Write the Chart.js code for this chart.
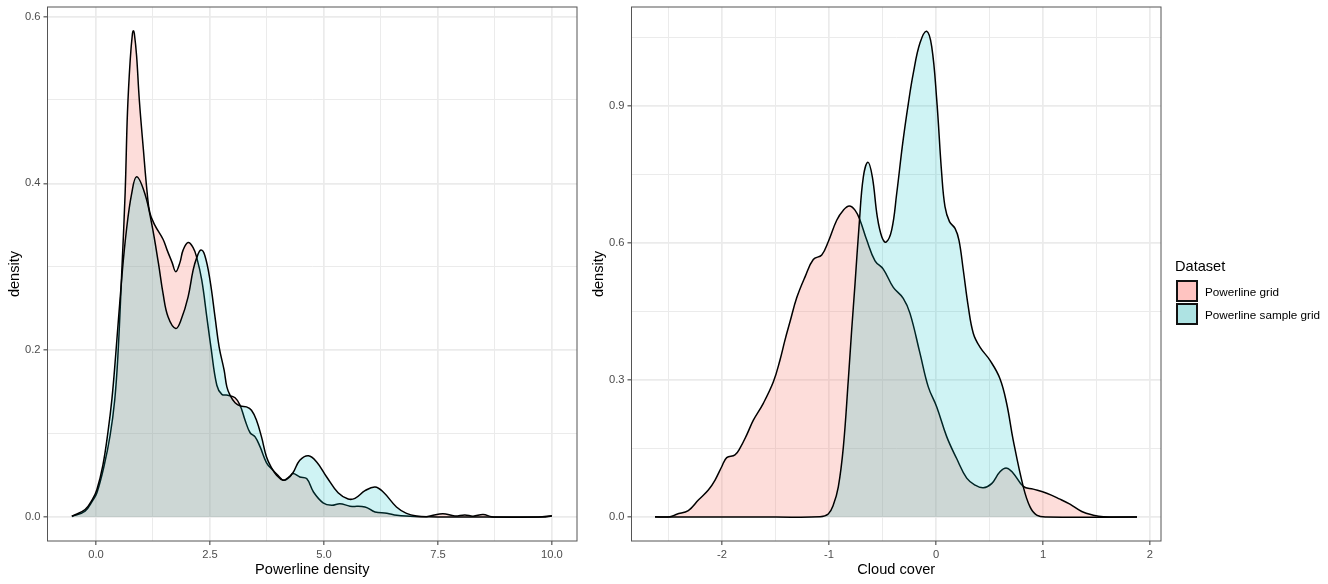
<!DOCTYPE html>
<html lang="en">
  <head>
    <meta charset="UTF-8" />
    <title>density</title>
    <script src="https://cdn.jsdelivr.net/npm/chart.js@4"></script>
    <style>
      body { margin: 0; background: #fff; font-family: "Liberation Sans", Arial, sans-serif; }
      canvas { position: absolute; top: 0; }
      #left { left: 0; }
      #right { left: 590px; }
      .legend-title { position: absolute; left: 1175px; top: 258px; font-size: 14.6px; color: #000; }
      .swatch { position: absolute; left: 1175.5px; width: 18px; height: 18px; border: 2px solid #111; }
      .legend-label { position: absolute; left: 1205px; font-size: 11.7px; color: #000; line-height: 14px; }
    </style>
  </head>
  <body>
    <canvas id="left" width="590" height="584"></canvas>
    <canvas id="right" width="590" height="584"></canvas>

    <div class="legend-title" id="legendTitle"></div>
    <div class="swatch" style="top: 280px; background: #ffc4c1"></div>
    <div class="swatch" style="top: 303px; background: #aee3e3"></div>
    <div class="legend-label" id="label0" style="top: 285px"></div>
    <div class="legend-label" id="label1" style="top: 308px"></div>

    <script>
      const legendName = "Dataset";
      const seriesNames = ["Powerline grid", "Powerline sample grid"];

      // left panel, powerline density
      const lineGridX = [-0.53, -0.24, -0.07, 0.02, 0.18, 0.31, 0.41, 0.48, 0.57, 0.64, 0.69, 0.75, 0.8, 0.82, 0.84, 0.89, 0.95, 1.04, 1.12, 1.18, 1.29, 1.47, 1.56, 1.67, 1.75, 1.84, 1.91, 2.02, 2.13, 2.21, 2.32, 2.43, 2.52, 2.65, 2.76, 2.89, 3.05, 3.16, 3.27, 3.38, 3.49, 3.6, 3.74, 3.88, 3.99, 4.12, 4.25, 4.32, 4.47, 4.62, 4.77, 4.98, 5.17, 5.35, 5.57, 5.9, 6.12, 6.38, 6.6, 6.89, 7.2, 7.35, 7.61, 7.87, 8.09, 8.27, 8.49, 8.68, 8.86, 9.7, 10];
      const lineGridY = [0.0006, 0.007, 0.02, 0.029, 0.062, 0.098, 0.14, 0.193, 0.3, 0.39, 0.485, 0.548, 0.58, 0.583, 0.58, 0.553, 0.5, 0.44, 0.39, 0.365, 0.35, 0.333, 0.32, 0.305, 0.294, 0.305, 0.32, 0.329, 0.323, 0.311, 0.284, 0.24, 0.204, 0.158, 0.147, 0.146, 0.143, 0.134, 0.116, 0.101, 0.096, 0.084, 0.065, 0.056, 0.05, 0.044, 0.048, 0.052, 0.048, 0.046, 0.03, 0.017, 0.014, 0.016, 0.013, 0.012, 0.006, 0.0045, 0.002, 0.001, 0.0003, 0.0015, 0.004, 0.0012, 0.0025, 0.001, 0.003, 0.0003, 0.0001, 0.0001, 0.0015];
      const lineSampleX = [-0.53, -0.24, -0.07, 0.02, 0.15, 0.26, 0.35, 0.43, 0.57, 0.67, 0.78, 0.89, 1.07, 1.22, 1.37, 1.47, 1.58, 1.75, 1.87, 2.02, 2.13, 2.21, 2.3, 2.39, 2.5, 2.61, 2.7, 2.81, 2.87, 2.94, 3.05, 3.17, 3.3, 3.41, 3.52, 3.63, 3.74, 3.85, 3.96, 4.1, 4.21, 4.32, 4.47, 4.66, 4.84, 5.06, 5.31, 5.53, 5.68, 5.9, 6.12, 6.3, 6.59, 6.81, 7.03, 7.3, 8, 9.8, 10];
      const lineSampleY = [0.001, 0.009, 0.022, 0.033, 0.062, 0.101, 0.142, 0.193, 0.29, 0.345, 0.387, 0.408, 0.388, 0.352, 0.304, 0.268, 0.24, 0.226, 0.237, 0.264, 0.296, 0.311, 0.32, 0.313, 0.284, 0.24, 0.204, 0.176, 0.156, 0.146, 0.137, 0.133, 0.132, 0.128, 0.116, 0.096, 0.072, 0.059, 0.05, 0.044, 0.047, 0.053, 0.068, 0.0735, 0.066, 0.048, 0.029, 0.0216, 0.0224, 0.0315, 0.036, 0.03, 0.012, 0.0044, 0.0012, 0.0002, 0, 0, 0.0012];

      // right panel, cloud cover
      const cloudGridX = [-2.626, -2.486, -2.423, -2.315, -2.221, -2.128, -2.065, -2.003, -1.956, -1.879, -1.832, -1.769, -1.707, -1.614, -1.52, -1.458, -1.411, -1.364, -1.302, -1.224, -1.147, -1.068, -1.007, -0.928, -0.866, -0.81, -0.757, -0.71, -0.648, -0.57, -0.493, -0.399, -0.306, -0.243, -0.15, -0.072, 0.007, 0.1, 0.193, 0.287, 0.364, 0.442, 0.52, 0.598, 0.661, 0.722, 0.816, 0.909, 1.035, 1.159, 1.252, 1.362, 1.47, 1.564, 1.879];
      const cloudGridY = [0.0005, 0.0005, 0.006, 0.014, 0.037, 0.059, 0.081, 0.11, 0.13, 0.136, 0.151, 0.18, 0.212, 0.249, 0.296, 0.344, 0.388, 0.428, 0.48, 0.526, 0.564, 0.574, 0.603, 0.65, 0.672, 0.681, 0.672, 0.65, 0.607, 0.561, 0.543, 0.503, 0.479, 0.446, 0.359, 0.285, 0.241, 0.176, 0.128, 0.085, 0.07, 0.064, 0.073, 0.099, 0.107, 0.096, 0.067, 0.061, 0.052, 0.039, 0.028, 0.012, 0.004, 0.0005, 0];
      const cloudSampleX = [-2.626, -1.5, -1.084, -1.007, -0.96, -0.913, -0.866, -0.82, -0.788, -0.757, -0.717, -0.679, -0.636, -0.595, -0.549, -0.507, -0.467, -0.414, -0.367, -0.311, -0.259, -0.212, -0.15, -0.087, -0.04, 0.007, 0.053, 0.084, 0.126, 0.178, 0.215, 0.255, 0.302, 0.349, 0.411, 0.505, 0.598, 0.661, 0.722, 0.816, 0.879, 0.941, 1.035, 1.879];
      const cloudSampleY = [0, 0, 0.0005, 0.0066, 0.026, 0.066, 0.153, 0.299, 0.41, 0.51, 0.644, 0.745, 0.777, 0.745, 0.658, 0.614, 0.602, 0.629, 0.709, 0.819, 0.905, 0.972, 1.038, 1.064, 1.03, 0.913, 0.753, 0.68, 0.647, 0.632, 0.606, 0.541, 0.46, 0.402, 0.372, 0.343, 0.303, 0.248, 0.168, 0.066, 0.022, 0.004, 0, 0];

      const lineXMajor = [0, 2.5, 5, 7.5, 10];
      const lineXMinor = [1.25, 3.75, 6.25, 8.75];
      const lineYMajor = [0, 0.2, 0.4, 0.6];
      const lineYMinor = [0.1, 0.3, 0.5];
      const cloudXMajor = [-2, -1, 0, 1, 2];
      const cloudXMinor = [-2.5, -1.5, -0.5, 0.5, 1.5];
      const cloudYMajor = [0, 0.3, 0.6, 0.9];
      const cloudYMinor = [0.15, 0.45, 0.75, 1.05];

      const pinkFill = "rgba(248, 118, 109, 0.25)";
      const tealFill = "rgba(0, 191, 196, 0.19)";
      const fontName = "'Liberation Sans', Arial, sans-serif";

      function zip(xs, ys) {
        return xs.map((x, i) => ({ x: x, y: ys[i] }));
      }

      function series(label, xs, ys, fill, order) {
        return {
          label: label,
          data: zip(xs, ys),
          order: order,
          fill: "origin",
          backgroundColor: fill,
          borderColor: "#000",
          borderWidth: 1.5,
          tension: 0.4,
          pointRadius: 0,
        };
      }

      // panel outline, ggplot theme_bw style
      const panelBorder = {
        id: "panelBorder",
        afterDatasetsDraw(chart) {
          const a = chart.chartArea;
          const c = chart.ctx;
          c.save();
          c.strokeStyle = "#555";
          c.lineWidth = 1;
          c.strokeRect(a.left, a.top, a.right - a.left, a.bottom - a.top);
          c.restore();
        },
      };

      function axis(o) {
        const all = o.major.concat(o.minor);
        const isMajor = (v) => o.major.includes(v);
        const scale = {
          type: "linear",
          min: o.min,
          max: o.max,
          afterBuildTicks(s) {
            s.ticks = all.map((v) => ({ value: v }));
          },
          afterFit(s) {
            if (o.size.w) s.width = o.size.w;
            if (o.size.h) s.height = o.size.h;
            // tick labels must not push the panel edges
            s.paddingTop = 0;
            s.paddingBottom = 0;
            s.paddingLeft = 0;
            s.paddingRight = 0;
          },
          border: { display: false },
          grid: {
            color: "#ebebeb",
            lineWidth: (ctx) => (isMajor(ctx.tick.value) ? 1.7 : 1),
            tickColor: (ctx) => (isMajor(ctx.tick.value) ? "#333" : "rgba(0,0,0,0)"),
            tickWidth: 1,
            tickLength: 4,
          },
          ticks: {
            autoSkip: false,
            maxRotation: 0,
            padding: 3,
            color: "#4d4d4d",
            font: { family: fontName, size: 11.2 },
            callback: (v) => (isMajor(v) ? v.toFixed(o.digits) : ""),
          },
          title: {
            display: true,
            text: o.title,
            color: "#000",
            font: { family: fontName, size: 14.6 },
            padding: o.titlePad,
          },
        };
        return scale;
      }

      function panel(id, xs, pad, xOpt, yOpt) {
        return new Chart(document.getElementById(id).getContext("2d"), {
          type: "line",
          data: { datasets: xs },
          options: {
            responsive: false,
            animation: false,
            devicePixelRatio: 1,
            layout: { padding: pad },
            plugins: { legend: { display: false }, tooltip: { enabled: false } },
            scales: { x: axis(xOpt), y: axis(yOpt) },
          },
          plugins: [panelBorder],
        });
      }

      panel(
        "left",
        [
          series(seriesNames[0], lineGridX, lineGridY, pinkFill, 2),
          series(seriesNames[1], lineSampleX, lineSampleY, tealFill, 1),
        ],
        { top: 7, right: 13, bottom: 0, left: 0 },
        { min: -1.064, max: 10.55, major: lineXMajor, minor: lineXMinor, digits: 1, title: "Powerline density", size: { h: 43 }, titlePad: { top: 1, bottom: 5 } },
        { min: -0.0288, max: 0.6115, major: lineYMajor, minor: lineYMinor, digits: 1, title: "density", size: { w: 47.5 }, titlePad: { top: 6, bottom: 1 } }
      );

      panel(
        "right",
        [
          series(seriesNames[0], cloudGridX, cloudGridY, pinkFill, 2),
          series(seriesNames[1], cloudSampleX, cloudSampleY, tealFill, 1),
        ],
        { top: 7, right: 19, bottom: 0, left: 0 },
        { min: -2.846, max: 2.103, major: cloudXMajor, minor: cloudXMinor, digits: 0, title: "Cloud cover", size: { h: 43 }, titlePad: { top: 1, bottom: 5 } },
        { min: -0.0526, max: 1.117, major: cloudYMajor, minor: cloudYMinor, digits: 1, title: "density", size: { w: 41.5 }, titlePad: { top: 0, bottom: 1 } }
      );

      document.getElementById("legendTitle").textContent = legendName;
      document.getElementById("label0").textContent = seriesNames[0];
      document.getElementById("label1").textContent = seriesNames[1];
    </script>
  </body>
</html>
